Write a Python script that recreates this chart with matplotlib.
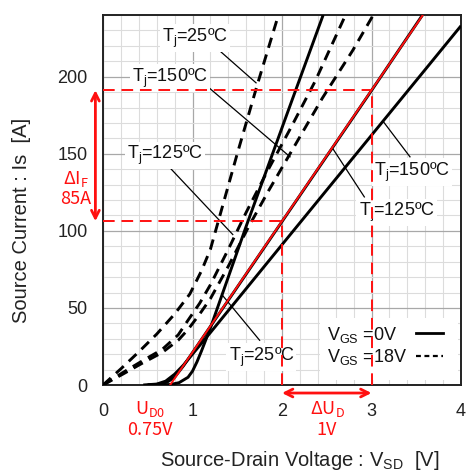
import matplotlib
matplotlib.use('Agg')
import matplotlib.pyplot as plt
from matplotlib.patches import Rectangle
from matplotlib.ticker import MultipleLocator

plt.rcParams['font.family'] = ['Liberation Sans', 'DejaVu Sans']
plt.rcParams['mathtext.fontset'] = 'custom'
plt.rcParams['mathtext.rm'] = 'Liberation Sans'
plt.rcParams['mathtext.it'] = 'Liberation Sans'
plt.rcParams['mathtext.default'] = 'regular'

# ---- VGS = 0 V (body diode) ----
vsd_0v_25 = [0.50, 0.75, 0.85, 0.95, 1.00, 1.05, 1.10, 1.20, 1.60, 2.12, 2.46]
is_0v_25 = [0, 0.3, 1.5, 5, 9, 15, 22, 37, 103, 186, 240]
vsd_0v_125 = [0.50, 0.65, 0.72, 0.80, 0.90, 1.00, 1.20, 2.00, 3.00, 3.57]
is_0v_125 = [0, 0.6, 2, 5, 12.5, 21, 38, 106, 191, 240]
vsd_0v_150 = [0.45, 0.60, 0.70, 0.80, 0.90, 1.00, 1.20, 2.00, 3.00, 4.00]
is_0v_150 = [0, 0.6, 2.5, 7, 13, 20, 34, 91, 162, 233]

# ---- VGS = 18 V (channel conduction) ----
vsd_18v_25 = [0, 0.20, 0.40, 0.60, 0.80, 0.97, 1.10, 1.20, 1.35, 1.50, 1.72, 1.96]
is_18v_25 = [0, 10.5, 21.5, 33, 46, 59, 74, 88, 119, 150, 194, 240]
vsd_18v_125 = [0, 0.22, 0.45, 0.66, 0.84, 0.95, 1.08, 1.20, 1.40, 1.60, 1.83, 2.10, 2.37, 2.71]
is_18v_125 = [0, 8, 16, 23, 32.5, 42, 53, 65, 88, 112, 138, 167, 197, 240]
vsd_18v_150 = [0, 0.22, 0.45, 0.66, 0.84, 0.95, 1.08, 1.20, 1.40, 1.63, 1.85, 2.10, 2.45, 2.79, 3.02]
is_18v_150 = [0, 7, 14.5, 21, 29, 36, 46, 56, 77, 103, 126, 151, 186, 217, 240]

# ---- linearised diode model ----
u_d0 = 0.75          # threshold voltage [V]
delta_u = 1.0        # voltage step [V]
delta_i = 85.0       # current step [A]
u_lo, u_hi = 2.0, 3.0
slope = delta_i / delta_u
i_lo = slope * (u_lo - u_d0)
i_hi = slope * (u_hi - u_d0)

x_ticks = [0, 1, 2, 3, 4]
y_ticks = [0, 50, 100, 150, 200]

fig = plt.figure(figsize=(4.66, 4.72), dpi=100)
ax = fig.add_axes([103 / 466, 1 - 385 / 472, (461 - 103) / 466, (385 - 15) / 472])
ax.set_xlim(0, 4)
ax.set_ylim(0, 240)
ax.set_xticks(x_ticks)
ax.set_yticks(y_ticks)
ax.xaxis.set_minor_locator(MultipleLocator(0.2))
ax.yaxis.set_minor_locator(MultipleLocator(10))
ax.grid(which='minor', color='#dcdcdc', lw=0.8, zorder=0)
ax.grid(which='major', color='#a8a8a8', lw=0.9, zorder=0)
ax.set_axisbelow(True)
ax.tick_params(which='both', length=0, labelsize=13, colors='#222222')
ax.tick_params(axis='x', pad=13)
ax.tick_params(axis='y', pad=11)
for sp in ax.spines.values():
    sp.set_linewidth(1.4)
    sp.set_color('#222222')

solid = dict(color='black', lw=2.1, solid_capstyle='butt', zorder=3)
dashed = dict(color='black', lw=2.1, ls=(0, (3.6, 2.4)), zorder=3)
ax.plot(vsd_0v_25, is_0v_25, **solid)
ax.plot(vsd_0v_125, is_0v_125, **solid)
ax.plot(vsd_0v_150, is_0v_150, **solid)
ax.plot(vsd_18v_25, is_18v_25, **dashed)
ax.plot(vsd_18v_125, is_18v_125, **dashed)
ax.plot(vsd_18v_150, is_18v_150, **dashed)

# red linear approximation
ax.plot([u_d0, u_d0 + 240 / slope], [0, 240], color='#ff1010', lw=1.4, zorder=6)

# red construction lines
red_dash = dict(color='#ff1010', lw=1.4, ls=(0, (6, 3.5)), zorder=8, clip_on=False)
ax.plot([0, u_hi], [i_hi, i_hi], **red_dash)
ax.plot([0, u_lo], [i_lo, i_lo], **red_dash)
ax.plot([u_lo, u_lo], [0, i_lo], **red_dash)
ax.plot([u_hi, u_hi], [0, i_hi], **red_dash)

# temperature labels with leader lines
def tj_label(x, y, text, x0, y0, x1, y1):
    ax.plot([x0, x1], [y0, y1], color='black', lw=0.9, zorder=5)
    ax.text(x, y, text, ha='center', va='center', fontsize=13, color='#111111',
            bbox=dict(facecolor='white', edgecolor='none', pad=1.5), zorder=7)

tj_label(1.03, 225, 'T$_{j}$=25ºC', 1.28, 218, 1.71, 196)
tj_label(0.75, 199, 'T$_{j}$=150ºC', 1.16, 194, 2.09, 148)
tj_label(0.69, 149, 'T$_{j}$=125ºC', 0.73, 142, 1.45, 97.6)
tj_label(1.77, 18, 'T$_{j}$=25ºC', 1.75, 29, 1.33, 58.5)
tj_label(3.45, 138, 'T$_{j}$=150ºC', 3.43, 148, 3.13, 171)
tj_label(3.28, 112, 'T$_{j}$=125ºC', 2.92, 122, 2.56, 154)

# legend box
ax.add_patch(Rectangle((2.42, 3), 1.55, 40.5, facecolor='white', edgecolor='none', zorder=7))
ax.text(2.50, 32.5, 'V$_{GS}$ =0V', ha='left', va='center', fontsize=13, color='#111111', zorder=7.5)
ax.text(2.50, 18.0, 'V$_{GS}$ =18V', ha='left', va='center', fontsize=13, color='#111111', zorder=7.5)
ax.plot([3.50, 3.80], [33.5, 33.5], color='black', lw=2.0, zorder=7.5)
ax.plot([3.50, 3.80], [19.0, 19.0], color='black', lw=1.6, ls=(0, (2.2, 1.6)), zorder=7.5)

# red arrows and annotations
red = '#ff1010'
ax.annotate('', xy=(-0.085, i_hi), xytext=(-0.085, i_lo), xycoords='data',
            arrowprops=dict(arrowstyle='<->', color=red, lw=2.0, mutation_scale=14,
                            shrinkA=0, shrinkB=0), annotation_clip=False, zorder=9)
ax.annotate('', xy=(u_hi, -5.2), xytext=(u_lo, -5.2), xycoords='data',
            arrowprops=dict(arrowstyle='<->', color=red, lw=2.0, mutation_scale=14,
                            shrinkA=0, shrinkB=0), annotation_clip=False, zorder=9)

red_font = ['Noto Sans CJK JP', 'DejaVu Sans']
fig.text(76 / 466, 1 - 179 / 472, r'ΔI$_{F}$', ha='center', va='center', fontsize=13,
         color=red, family=red_font)
fig.text(76 / 466, 1 - 199 / 472, f'{delta_i:.0f}A', ha='center', va='center', fontsize=13,
         color=red, family=red_font)
fig.text(150 / 466, 1 - 409 / 472, r'U$_{D0}$', ha='center', va='center', fontsize=13,
         color=red, family=red_font)
fig.text(150 / 466, 1 - 430 / 472, f'{u_d0:.2f}V', ha='center', va='center', fontsize=13,
         color=red, family=red_font)
fig.text(327 / 466, 1 - 409 / 472, r'ΔU$_{D}$', ha='center', va='center', fontsize=13,
         color=red, family=red_font)
fig.text(327 / 466, 1 - 430 / 472, f'{delta_u:.0f}V', ha='center', va='center', fontsize=13,
         color=red, family=red_font)

# axis titles
fig.text(300 / 466, 1 - 461 / 472, 'Source-Drain Voltage : V$_{SD}$  [V]', ha='center',
         va='center', fontsize=14.5, color='#222222')
fig.text(22 / 466, 1 - 220 / 472, 'Source Current : Is  [A]', ha='center', va='center',
         rotation=90, fontsize=14.5, color='#222222')

fig.savefig('out.png', dpi=100)
